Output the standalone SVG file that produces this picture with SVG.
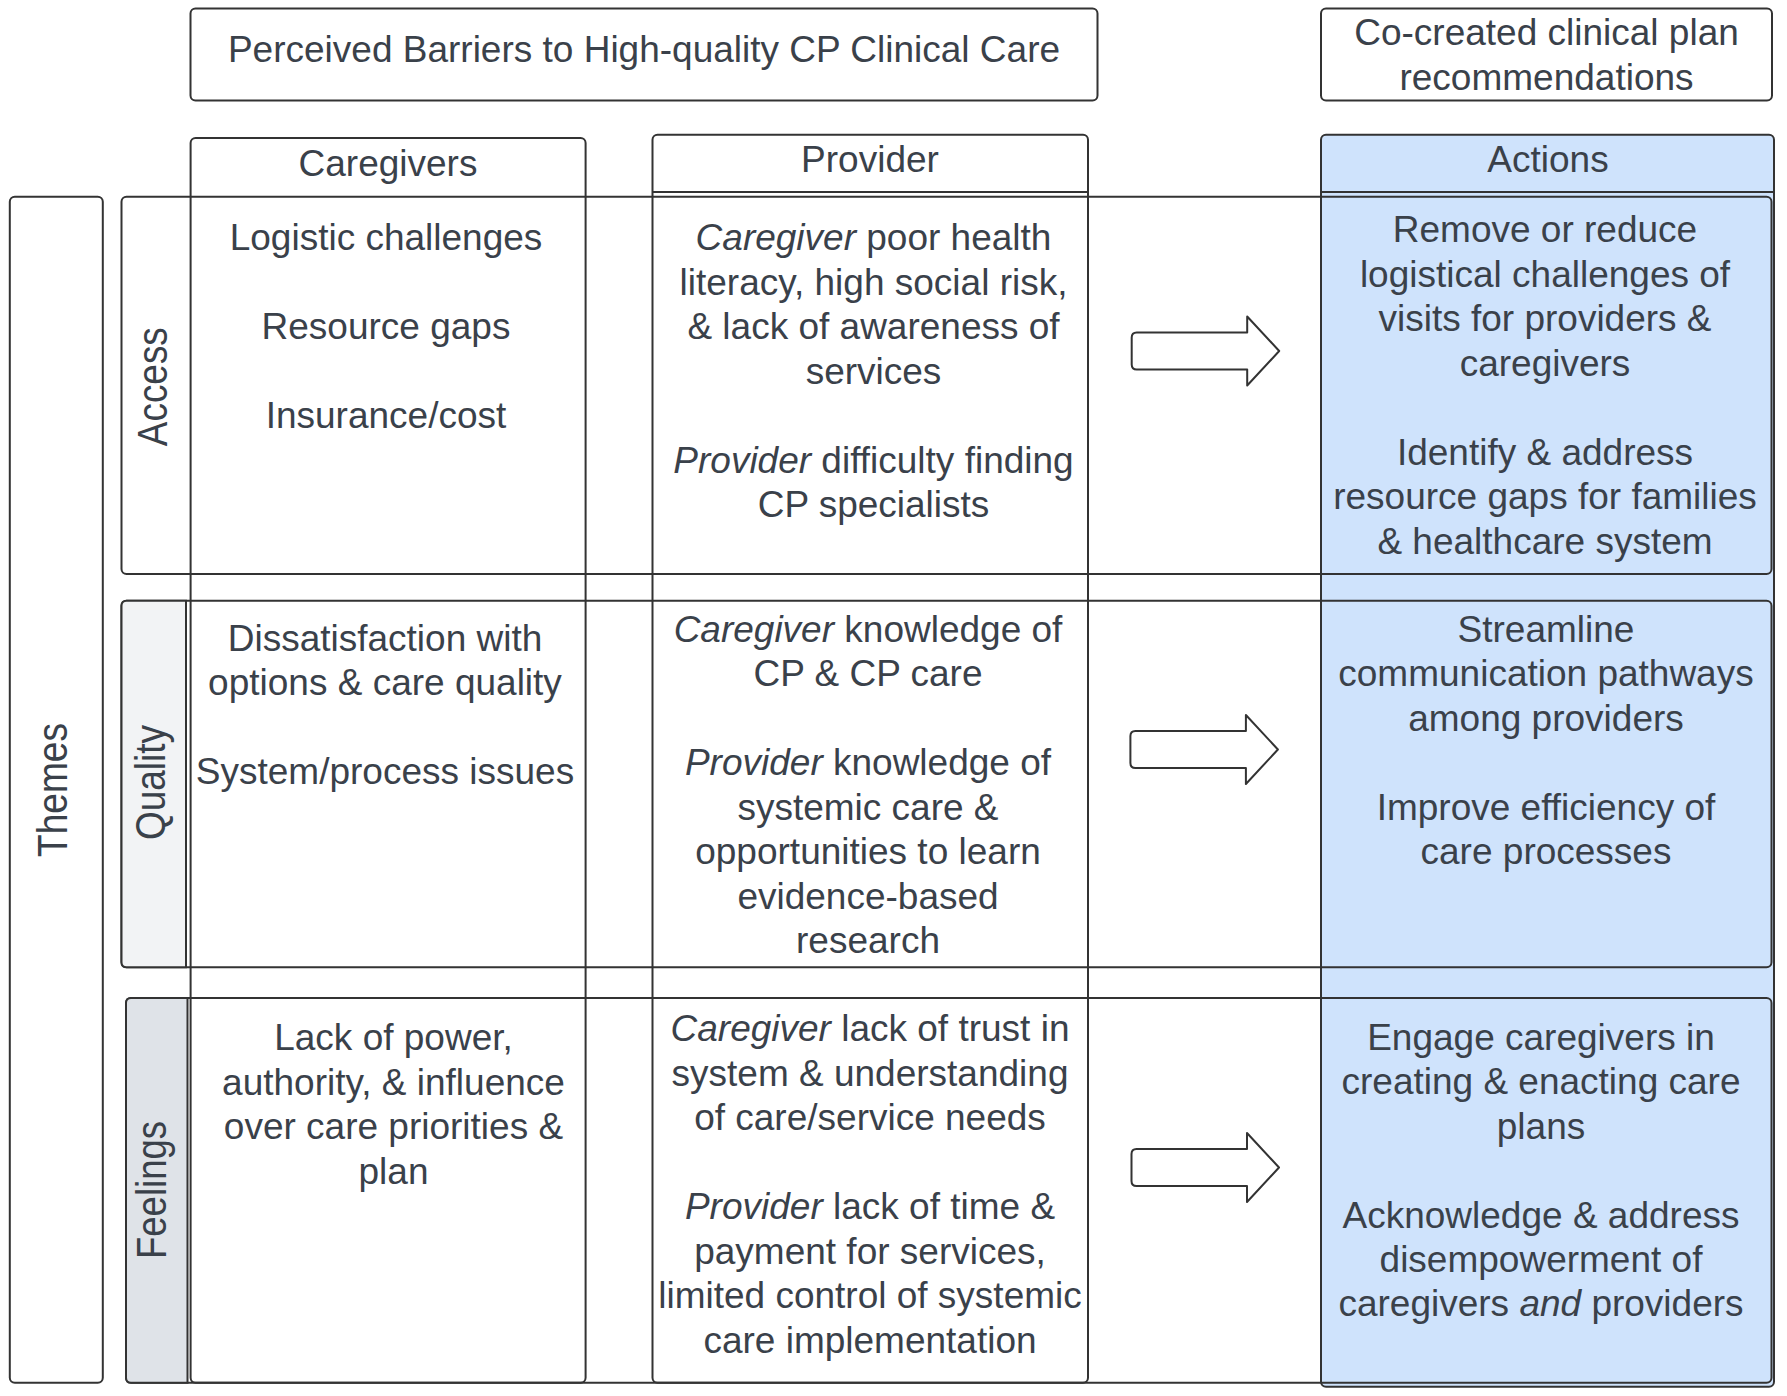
<svg xmlns="http://www.w3.org/2000/svg" width="1787" height="1396" viewBox="0 0 1787 1396">
<style>
.box{fill:none;stroke:#333;stroke-width:2}
.wbox{fill:#fff;stroke:#333;stroke-width:2}
.blue{fill:#cfe3fc;stroke:#333;stroke-width:2}
.ln{stroke:#333;stroke-width:2;fill:none}
text{font-family:"Liberation Sans",Arial,sans-serif;font-size:37px;fill:#3a414a}
.c{text-anchor:middle}
.rot{font-size:42px;text-anchor:middle}
.i{font-style:italic}
.arrow{fill:#fff;stroke:#333;stroke-width:2;stroke-linejoin:round}
</style>
<defs>
<path id="blk" d="M5,-18.5 H115.5 V-34.5 L147.5,0 L115.5,34.5 V18.5 H5 Q0,18.5 0,13.5 V-13.5 Q0,-18.5 5,-18.5 Z"/>
</defs>
<rect width="1787" height="1396" fill="#fff"/>

<g id="title">
<rect class="box" x="190.5" y="8.5" width="907" height="92" rx="5"/>
<text class="c" x="644" y="62">Perceived Barriers to High-quality CP Clinical Care</text>
</g>
<g id="recommendations">
<rect class="box" x="1321" y="8.5" width="451" height="92" rx="5"/>
<text class="c" x="1546.5" y="45">Co-created clinical plan</text>
<text class="c" x="1546.5" y="89.5">recommendations</text>
</g>

<g id="actions-column">
<rect class="blue" x="1321" y="134.7" width="453" height="1252" rx="5"/>
<line class="ln" x1="1321" y1="192" x2="1774" y2="192"/>
<text class="c" x="1548" y="171.5">Actions</text>
</g>

<g id="themes">
<rect class="box" x="9.8" y="196.7" width="93" height="1186" rx="5"/>
<text class="rot" transform="translate(67,790) rotate(-90)" textLength="134" lengthAdjust="spacingAndGlyphs">Themes</text>
</g>

<g id="row-access">
<rect class="box" x="121.5" y="196.7" width="1650" height="377.3" rx="5"/>
<text class="rot" transform="translate(167,386.7) rotate(-90)" textLength="119" lengthAdjust="spacingAndGlyphs">Access</text>
</g>
<g id="row-quality">
<rect class="box" x="121.5" y="600.7" width="1650" height="366.6" rx="5"/>
<path d="M126.5,600.7 H186 V967.3 H126.5 Q121.5,967.3 121.5,962.3 V605.7 Q121.5,600.7 126.5,600.7 Z" fill="#f2f3f5" stroke="#333" stroke-width="2"/>
<text class="rot" transform="translate(165,782.5) rotate(-90)" textLength="115" lengthAdjust="spacingAndGlyphs">Quality</text>
</g>
<g id="row-feelings">
<rect class="box" x="126" y="998" width="1645.5" height="384.7" rx="5"/>
<path d="M131,998 H187.5 V1382.7 H131 Q126,1382.7 126,1377.7 V1003 Q126,998 131,998 Z" fill="#dfe3e8" stroke="#333" stroke-width="2"/>
<text class="rot" transform="translate(166,1190) rotate(-90)" textLength="138" lengthAdjust="spacingAndGlyphs">Feelings</text>
</g>

<g id="caregivers-column">
<rect class="box" x="190.6" y="138" width="395" height="1244.7" rx="5"/>
<text class="c" x="388" y="175.5">Caregivers</text>
</g>
<g id="provider-column">
<rect class="box" x="652.5" y="134.7" width="435.5" height="1248" rx="5"/>
<line class="ln" x1="652.5" y1="192" x2="1088" y2="192"/>
<text class="c" x="870" y="171.5">Provider</text>
</g>

<g id="caregivers-access">
<text class="c" x="386" y="250">Logistic challenges</text>
<text class="c" x="386" y="339">Resource gaps</text>
<text class="c" x="386" y="428">Insurance/cost</text>
</g>
<g id="provider-access">
<text class="c" x="873.5" y="250"><tspan class="i">Caregiver</tspan> poor health</text>
<text class="c" x="873.5" y="294.5">literacy, high social risk,</text>
<text class="c" x="873.5" y="339">&amp; lack of awareness of</text>
<text class="c" x="873.5" y="383.5">services</text>
<text class="c" x="873.5" y="472.5"><tspan class="i">Provider</tspan> difficulty finding</text>
<text class="c" x="873.5" y="517">CP specialists</text>
</g>
<g id="actions-access">
<text class="c" x="1545" y="242">Remove or reduce</text>
<text class="c" x="1545" y="286.5">logistical challenges of</text>
<text class="c" x="1545" y="331">visits for providers &amp;</text>
<text class="c" x="1545" y="375.5">caregivers</text>
<text class="c" x="1545" y="464.5">Identify &amp; address</text>
<text class="c" x="1545" y="509">resource gaps for families</text>
<text class="c" x="1545" y="553.5">&amp; healthcare system</text>
</g>

<g id="caregivers-quality">
<text class="c" x="385" y="650.7">Dissatisfaction with</text>
<text class="c" x="385" y="695">options &amp; care quality</text>
<text class="c" x="385" y="784">System/process issues</text>
</g>
<g id="provider-quality">
<text class="c" x="868" y="641.7"><tspan class="i">Caregiver</tspan> knowledge of</text>
<text class="c" x="868" y="686">CP &amp; CP care</text>
<text class="c" x="868" y="775"><tspan class="i">Provider</tspan> knowledge of</text>
<text class="c" x="868" y="819.5">systemic care &amp;</text>
<text class="c" x="868" y="864">opportunities to learn</text>
<text class="c" x="868" y="908.5">evidence-based</text>
<text class="c" x="868" y="953">research</text>
</g>
<g id="actions-quality">
<text class="c" x="1546" y="641.7">Streamline</text>
<text class="c" x="1546" y="686">communication pathways</text>
<text class="c" x="1546" y="730.5">among providers</text>
<text class="c" x="1546" y="819.5">Improve efficiency of</text>
<text class="c" x="1546" y="864">care processes</text>
</g>

<g id="caregivers-feelings">
<text class="c" x="393.5" y="1050.3">Lack of power,</text>
<text class="c" x="393.5" y="1094.7">authority, &amp; influence</text>
<text class="c" x="393.5" y="1139">over care priorities &amp;</text>
<text class="c" x="393.5" y="1183.5">plan</text>
</g>
<g id="provider-feelings">
<text class="c" x="870" y="1041"><tspan class="i">Caregiver</tspan> lack of trust in</text>
<text class="c" x="870" y="1085.5">system &amp; understanding</text>
<text class="c" x="870" y="1130">of care/service needs</text>
<text class="c" x="870" y="1219"><tspan class="i">Provider</tspan> lack of time &amp;</text>
<text class="c" x="870" y="1263.5">payment for services,</text>
<text class="c" x="870" y="1308">limited control of systemic</text>
<text class="c" x="870" y="1352.5">care implementation</text>
</g>
<g id="actions-feelings">
<text class="c" x="1541" y="1050">Engage caregivers in</text>
<text class="c" x="1541" y="1094.4">creating &amp; enacting care</text>
<text class="c" x="1541" y="1138.8">plans</text>
<text class="c" x="1541" y="1227.6">Acknowledge &amp; address</text>
<text class="c" x="1541" y="1272">disempowerment of</text>
<text class="c" x="1541" y="1316.4">caregivers <tspan class="i">and</tspan> providers</text>
</g>

<g id="connectors">
<use href="#blk" class="arrow" transform="translate(1131.7,351)"/>
<use href="#blk" class="arrow" transform="translate(1130.4,749.5)"/>
<use href="#blk" class="arrow" transform="translate(1131.5,1167.5)"/>
</g>
</svg>
